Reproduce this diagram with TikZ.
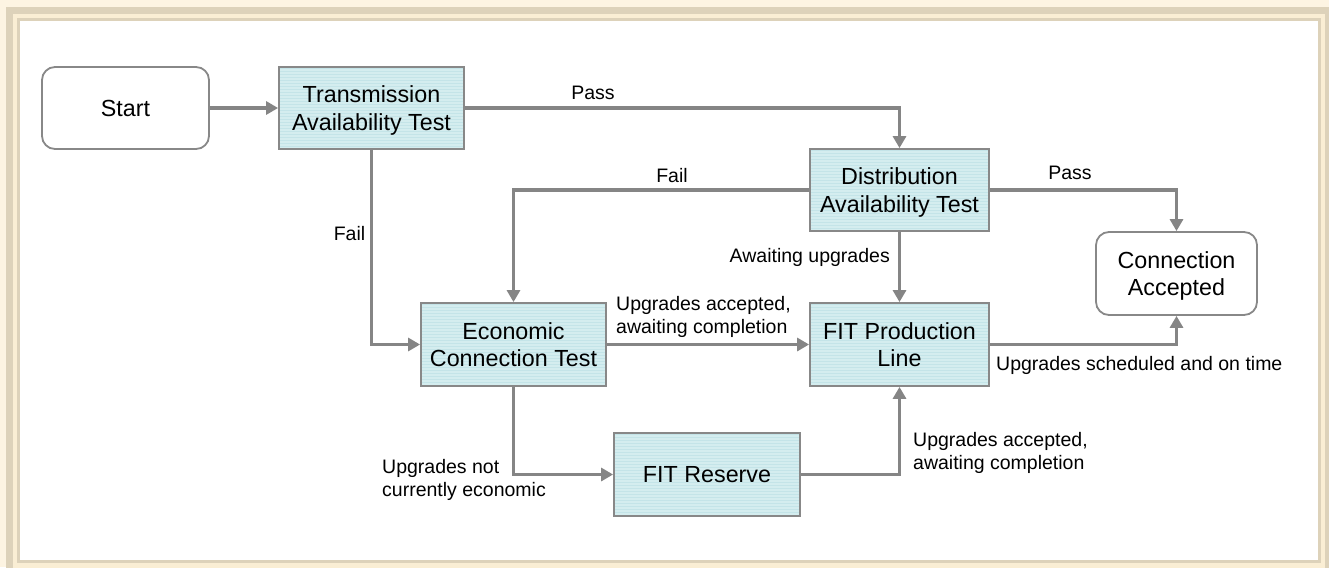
\documentclass[tikz,border=0pt]{standalone}
\usepackage{fontspec}
\setmainfont{Liberation Sans}
\usetikzlibrary{arrows.meta}
\definecolor{cream}{RGB}{253,244,226}
\definecolor{tanband}{RGB}{221,210,186}
\definecolor{lightband}{RGB}{250,238,212}
\definecolor{boxfill}{RGB}{212,237,239}
\definecolor{stripe}{RGB}{196,228,232}
\definecolor{edgegray}{RGB}{136,136,136}
\definecolor{linkgray}{RGB}{133,133,133}
\newcommand\boxtextfont{\fontsize{23.3}{27.5}\selectfont}
\newcommand\labeltextfont{\fontsize{19.5}{23}\selectfont}
\begin{document}
\begin{tikzpicture}[x=1pt,y=-1pt,
  procbox/.style={draw=edgegray, line width=1.8pt, fill=boxfill, inner sep=0pt,
    align=center, text depth=0pt, font=\boxtextfont,
    path picture={\foreach \k in {1.5,4.5,...,90}{\draw[stripe,line width=0.7pt]
      ([yshift=-\k pt]path picture bounding box.north west) --
      ([yshift=-\k pt]path picture bounding box.north east);}}},
  termbox/.style={draw=edgegray, line width=1.8pt, fill=white, inner sep=0pt,
    rounded corners=13pt, align=center, text depth=0pt, font=\boxtextfont},
  link/.style={draw=linkgray, line width=3.5pt, -{Triangle[length=12pt,width=13pt]}},
  lab/.style={inner sep=0pt, font=\labeltextfont, align=left, text depth=0pt}]
\useasboundingbox (0,0) rectangle (1329,567);
% frame
\fill[cream] (0,0) rectangle (1329,567);
\fill[tanband] (6,7) rectangle (1335,580);
\fill[lightband] (13,14) rectangle (1325,573);
\draw[tanband, line width=2.5pt, fill=white] (18.3,19.5) rectangle (1319.5,561.3);
% nodes
\node[termbox, minimum width=167pt, minimum height=82pt] (start) at (125.5,108) {Start};
\node[procbox, minimum width=185pt, minimum height=82pt] (tat) at (371.5,108) {Transmission\\Availability Test};
\node[procbox, minimum width=179pt, minimum height=82pt] (dat) at (899.5,190) {Distribution\\Availability Test};
\node[termbox, minimum width=161pt, minimum height=83pt] (acc) at (1176.5,273.5) {Connection\\Accepted};
\node[procbox, minimum width=185pt, minimum height=83pt] (econ) at (513.5,344.5) {Economic\\Connection Test};
\node[procbox, minimum width=179pt, minimum height=83pt] (prod) at (899.5,344.5) {FIT Production\\Line};
\node[procbox, minimum width=186pt, minimum height=83pt] (res) at (707,474.5) {FIT Reserve};
% connectors
\draw[link] (start) -- (tat);
\draw[link] (tat.east) -| (dat.north);
\draw[link] (dat.west) -| (econ.north);
\draw[link] (tat.south) |- (econ.west);
\draw[link] (dat.east) -| (acc.north);
\draw[link] (dat.south) -- (prod.north);
\draw[link] (econ.east) -- (prod.west);
\draw[link] (prod.east) -| (acc.south);
\draw[link] (econ.south) |- (res.west);
\draw[link] (res.east) -| (prod.south);
% labels
\node[lab, anchor=base] (lpass1) at (593,100) {Pass};
\node[lab, anchor=base] (lfail1) at (672,182) {Fail};
\node[lab, anchor=base] (lfail2) at (349.5,240) {Fail};
\node[lab, anchor=base] (lpass2) at (1070,179) {Pass};
\node[lab, anchor=base east] (lawait) at (890,262) {Awaiting upgrades};
\node[lab, anchor=south west] (lacc1) at (616,334) {Upgrades accepted,\\awaiting completion};
\node[lab, anchor=base west] (lsched) at (996,370) {Upgrades scheduled and on time};
\node[lab, anchor=south west] (lnot) at (382,497) {Upgrades not\\currently economic};
\node[lab, anchor=south west] (lacc2) at (913,470) {Upgrades accepted,\\awaiting completion};
\end{tikzpicture}
\end{document}
